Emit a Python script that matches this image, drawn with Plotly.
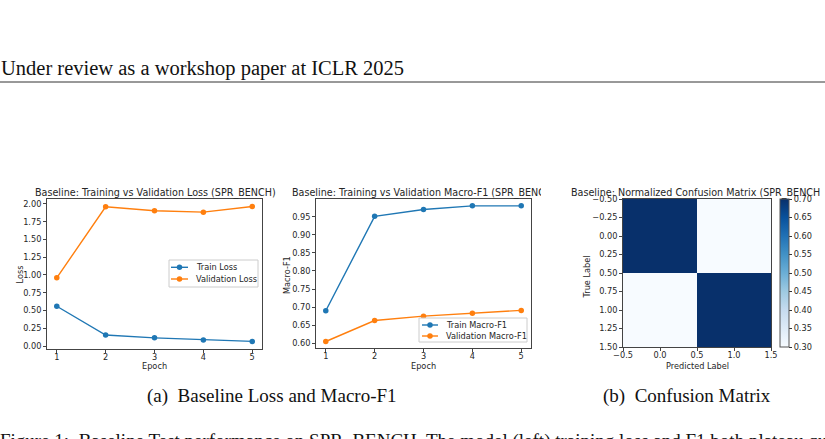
import plotly.graph_objects as go

# ---------------- data ----------------
epochs = [1, 2, 3, 4, 5]
train_loss = [0.56, 0.155, 0.115, 0.085, 0.065]
val_loss = [0.96, 1.96, 1.905, 1.885, 1.965]
train_f1 = [0.69, 0.951, 0.970, 0.980, 0.980]
val_f1 = [0.605, 0.663, 0.675, 0.683, 0.691]
cm_labels = [0, 1]
cm_values = [[0.70, 0.30], [0.30, 0.70]]
loss_ticks = [0.0, 0.25, 0.5, 0.75, 1.0, 1.25, 1.5, 1.75, 2.0]
f1_ticks = [0.60, 0.65, 0.70, 0.75, 0.80, 0.85, 0.90, 0.95, 1.00]
cm_yticks = [-0.5, -0.25, 0.0, 0.25, 0.5, 0.75, 1.0, 1.25, 1.5]
cm_xticks = [-0.5, 0.0, 0.5, 1.0, 1.5]
cbar_ticks = [0.30, 0.35, 0.40, 0.45, 0.50, 0.55, 0.60, 0.65, 0.70]

W, H = 825, 439
BLUE = "#1f77b4"
ORANGE = "#ff7f0e"
TXT = "#262626"
MPL = "DejaVu Sans"
SERIF = "Liberation Serif"
LW = 1.4
MS = 5.5


def fx(p):
    return p / W


def fy(p):
    return 1 - p / H


fig = go.Figure()

fig.add_trace(go.Scatter(x=epochs, y=train_loss, mode="lines+markers", name="Train Loss",
                         line=dict(color=BLUE, width=LW), marker=dict(size=MS, color=BLUE),
                         xaxis="x", yaxis="y", showlegend=False))
fig.add_trace(go.Scatter(x=epochs, y=val_loss, mode="lines+markers", name="Validation Loss",
                         line=dict(color=ORANGE, width=LW), marker=dict(size=MS, color=ORANGE),
                         xaxis="x", yaxis="y", showlegend=False))
fig.add_trace(go.Scatter(x=epochs, y=train_f1, mode="lines+markers", name="Train Macro-F1",
                         line=dict(color=BLUE, width=LW), marker=dict(size=MS, color=BLUE),
                         xaxis="x2", yaxis="y2", showlegend=False))
fig.add_trace(go.Scatter(x=epochs, y=val_f1, mode="lines+markers", name="Validation Macro-F1",
                         line=dict(color=ORANGE, width=LW), marker=dict(size=MS, color=ORANGE),
                         xaxis="x2", yaxis="y2", showlegend=False))
fig.add_trace(go.Heatmap(
    z=cm_values, x=cm_labels, y=cm_labels, colorscale="Blues",
    zmin=0.30, zmax=0.70, xaxis="x3", yaxis="y3",
    colorbar=dict(
        x=fx(780), xanchor="left", y=fy(273), yanchor="middle",
        thickness=9, thicknessmode="pixels", len=148, lenmode="pixels",
        xpad=0, ypad=0, outlinecolor="#555", outlinewidth=1,
        tickvals=cbar_ticks, tickformat=".2f", ticks="outside", ticklen=3,
        tickcolor="#333", tickfont=dict(family=MPL, size=8.2, color=TXT),
    ),
    showscale=True,
))

axis_common = dict(showline=True, linecolor="#444", linewidth=1, mirror=True,
                   showgrid=False, zeroline=False, ticks="outside", ticklen=3,
                   tickwidth=1, tickcolor="#444", automargin=False,
                   tickfont=dict(family=MPL, size=8.2, color=TXT))
xaxis_extra = dict(ticklabelstandoff=-3)

fig.update_layout(
    width=W, height=H, margin=dict(l=0, r=0, t=0, b=0, pad=0, autoexpand=False),
    paper_bgcolor="white", plot_bgcolor="white", showlegend=False,
    xaxis=dict(domain=[fx(47), fx(262)], range=[0.8, 5.2], tickvals=epochs,
               anchor="y", **axis_common, **xaxis_extra),
    yaxis=dict(domain=[fy(349), fy(199)], range=[-0.042, 2.07], tickvals=loss_ticks,
               tickformat=".2f", anchor="x", **axis_common),
    xaxis2=dict(domain=[fx(316), fx(531)], range=[0.8, 5.2], tickvals=epochs,
                anchor="y2", **axis_common, **xaxis_extra),
    yaxis2=dict(domain=[fy(348), fy(199)], range=[0.587, 0.999], tickvals=f1_ticks,
                tickformat=".2f", anchor="x2", **axis_common),
    xaxis3=dict(domain=[fx(623), fx(771)], range=[-0.5, 1.5], tickvals=cm_xticks,
                tickformat=".1f", anchor="y3", **axis_common, **xaxis_extra),
    yaxis3=dict(domain=[fy(347), fy(199)], range=[1.5, -0.5], tickvals=cm_yticks,
                tickformat=".2f", anchor="x3", **axis_common),
)


def text(x, y, s, size=8.2, family=MPL, xanchor="center", yanchor="middle", angle=0,
         color=TXT, **kw):
    fig.add_annotation(x=fx(x), y=fy(y), xref="paper", yref="paper", text=s, showarrow=False,
                       xanchor=xanchor, yanchor=yanchor, textangle=angle,
                       font=dict(family=family, size=size, color=color), **kw)


# titles (clipped at the sub-figure edges in the original)
def title(x, s, width):
    text(x, 193, s, size=9.6, xanchor="left", width=width, height=14, align="left",
         borderpad=0, borderwidth=0)


title(35, "Baseline: Training vs Validation Loss (SPR_BENCH)", 246)
title(292, "Baseline: Training vs Validation Macro-F1 (SPR_BENCH)", 249)
title(571, "Baseline: Normalized Confusion Matrix (SPR_BENCH)", 249)

# axis labels
text(19.5, 275, "Loss", angle=-90)
text(154, 366, "Epoch")
text(287, 275, "Macro-F1", angle=-90)
text(423, 366, "Epoch")
text(586.5, 277, "True Label", angle=-90)
text(697, 366, "Predicted Label")


# manual legends
def legend_box(x0, y0, x1, y1):
    fig.add_shape(type="rect", xref="paper", yref="paper", x0=fx(x0), x1=fx(x1),
                  y0=fy(y1), y1=fy(y0), fillcolor="rgba(255,255,255,0.85)",
                  line=dict(color="#cccccc", width=1), layer="above")


def legend_item(xl0, xl1, y, color, label):
    fig.add_shape(type="line", xref="paper", yref="paper", x0=fx(xl0), x1=fx(xl1),
                  y0=fy(y), y1=fy(y), line=dict(color=color, width=LW), layer="above")
    xm = (xl0 + xl1) / 2
    r = MS / 2
    fig.add_shape(type="circle", xref="paper", yref="paper", x0=fx(xm - r), x1=fx(xm + r),
                  y0=fy(y + r), y1=fy(y - r), fillcolor=color, line=dict(color=color, width=0),
                  layer="above")
    text(xl1 + 6, y, label, xanchor="left")


legend_box(169, 260, 258, 287)
legend_item(171, 188, 267.3, BLUE, "Train Loss")
legend_item(171, 188, 279, ORANGE, "Validation Loss")

legend_box(419, 318, 527, 342)
legend_item(422, 438, 325, BLUE, "Train Macro-F1")
legend_item(422, 438, 336, ORANGE, "Validation Macro-F1")

# page elements
text(-1, 68.6, "Under review as a workshop paper at ICLR 2025", size=20.5, family=SERIF,
     xanchor="left", color="#111")
fig.add_shape(type="line", xref="paper", yref="paper", x0=0, x1=1, y0=fy(82), y1=fy(82),
              line=dict(color="#333", width=1))
text(272, 395.5, "(a)  Baseline Loss and Macro-F1", size=19, family=SERIF, color="#111")
text(687, 395.5, "(b)  Confusion Matrix", size=19, family=SERIF, color="#111")
text(0, 430, "Figure 1:  Baseline Test performance on SPR_BENCH. The model (left) training loss and F1 both plateau quickly, and the",
     size=19, family=SERIF, xanchor="left", yanchor="top", color="#111",
     width=825, height=9, align="left", valign="top", borderpad=0, borderwidth=0)

fig.write_html("out.html")
